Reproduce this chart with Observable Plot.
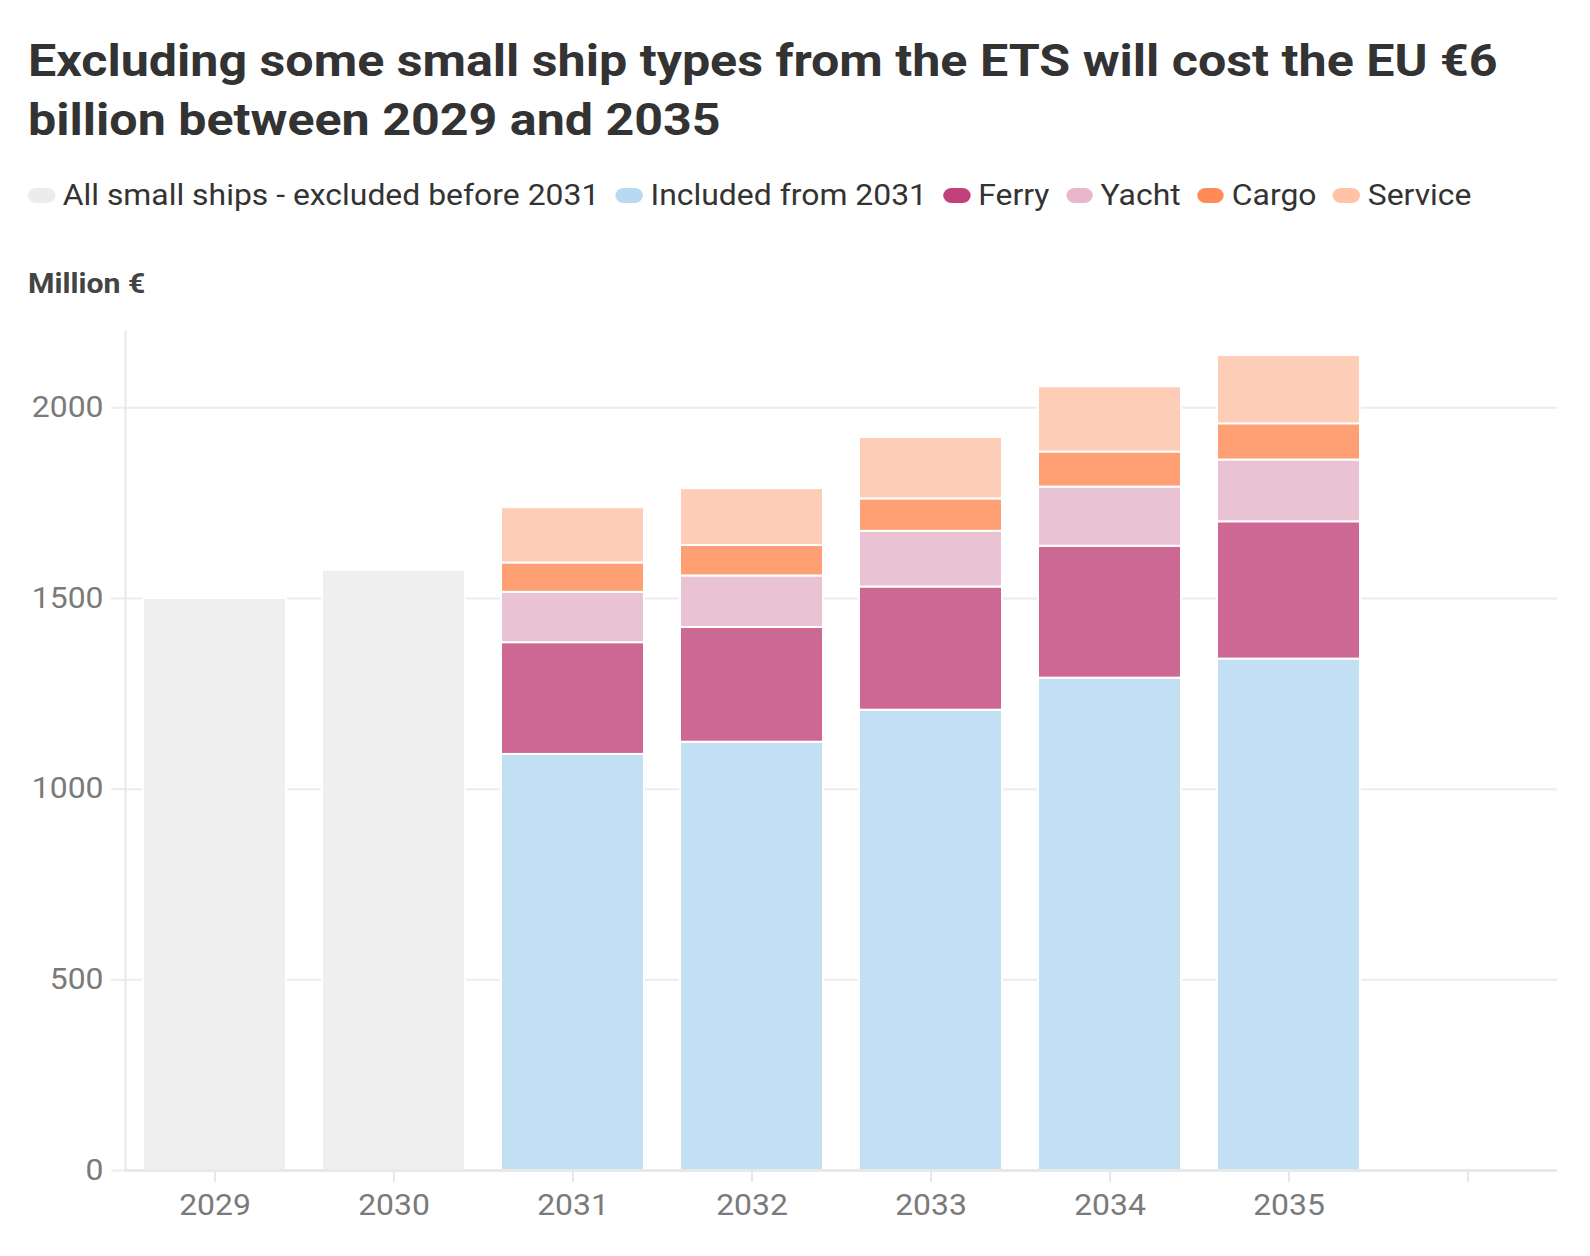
<!DOCTYPE html>
<html>
<head>
<meta charset="utf-8">
<script src="https://cdn.jsdelivr.net/npm/d3@7"></script>
<script src="https://cdn.jsdelivr.net/npm/@observablehq/plot@0.6"></script>
<style>
  html, body { margin: 0; padding: 0; background: #fff; overflow: hidden; }
  body { width: 1590px; height: 1256px; position: relative; font-family: Roboto, sans-serif; }
  #title { position: absolute; left: 28px; top: 31px; width: 1380px; font-size: 45px; font-weight: 700; line-height: 59px; color: #333; margin: 0; transform: scaleX(1.115); transform-origin: 0 0; }
  #legend { position: absolute; left: 28px; top: 176px; display: flex; align-items: center; font-size: 29px; line-height: 38px; color: #333; white-space: nowrap; transform: scaleX(1.1); transform-origin: 0 50%; }
  .item { display: flex; align-items: center; margin-right: 15px; }
  .sw { width: 24.5px; height: 15px; border-radius: 7.5px; margin-right: 7px; }
  #unit { position: absolute; left: 28px; top: 266px; font-size: 27.5px; line-height: 35px; font-weight: 700; color: #444; transform: scaleX(1.1); transform-origin: 0 50%; }
  #chart { position: absolute; left: 0; top: 300px; }
  #chart svg { max-width: none; }
</style>
</head>
<body>
<h1 id="title">Excluding some small ship types from the ETS will cost the EU €6 billion between 2029 and 2035</h1>
<div id="legend"></div>
<div id="unit">Million €</div>
<div id="chart"></div>
<script>
// x categories (last band is an empty slot with an unlabeled tick)
const years = ["2029", "2030", "2031", "2032", "2033", "2034", "2035", "2036"];
const tickLabels = ["2029", "2030", "2031", "2032", "2033", "2034", "2035", ""];

// series names, in stacking order (bottom to top)
const seriesNames = ["All small ships - excluded before 2031", "Included from 2031", "Ferry", "Yacht", "Cargo", "Service"];
const barColors = ["#efefef", "#c2dff4", "#cc6893", "#e9c2d4", "#ff9f74", "#fdcdb8"];
const swatchColors = ["#ececec", "#b8d9f2", "#c2417a", "#e8b7cc", "#ff8a55", "#ffc3a8"];

// values in million €, per year
const allSmallShips = [1500, 1574, null, null, null, null, null, null];
const includedFrom2031 = [null, null, 1091, 1123, 1207, 1291, 1341, null];
const ferry = [null, null, 293, 301, 323, 346, 360, null];
const yacht = [null, null, 132, 135, 146, 155, 162, null];
const cargo = [null, null, 77, 80, 85, 92, 95, null];
const service = [null, null, 145, 149, 161, 171, 179, null];

const seriesValues = [allSmallShips, includedFrom2031, ferry, yacht, cargo, service];

const yTicks = [0, 500, 1000, 1500, 2000];

const data = [];
years.forEach((yr, i) => {
  seriesValues.forEach((vals, s) => {
    if (vals[i] != null) data.push({year: yr, series: seriesNames[s], value: vals[i]});
  });
});

// legend
const legend = document.getElementById("legend");
seriesNames.forEach((name, i) => {
  const it = document.createElement("div");
  it.className = "item";
  const sw = document.createElement("span");
  sw.className = "sw";
  sw.style.background = swatchColors[i];
  const tx = document.createElement("span");
  tx.textContent = name;
  it.appendChild(sw); it.appendChild(tx);
  legend.appendChild(it);
});

const plot = Plot.plot({
  width: 1590,
  height: 930,
  marginTop: 31,
  marginBottom: 60,
  marginLeft: 125,
  marginRight: 33,
  style: {fontFamily: "Roboto, sans-serif", fontSize: "29px", color: "#7a7a7a", background: "#fff"},
  x: {domain: years, paddingInner: 0.2, paddingOuter: 0.1, label: null},
  y: {domain: [0, 2200], label: null},
  color: {domain: seriesNames, range: barColors},
  marks: [
    Plot.gridY(yTicks, {stroke: "#ececec", strokeOpacity: 1, strokeWidth: 2}),
    Plot.axisY(yTicks, {tickSize: 14, tickPadding: 8, stroke: "#ececec", strokeWidth: 2, strokeOpacity: 1, fill: "#7a7a7a", tickFormat: d => String(d), label: null}),
    Plot.frame({anchor: "left", stroke: "#e8e8e8", strokeWidth: 2}),
    Plot.barY(data, Plot.stackY({
      x: "year", y: "value", fill: "series",
      order: seriesNames,
      stroke: "white", strokeWidth: 2
    })),
    Plot.ruleY([0], {stroke: "#e8e8e8", strokeWidth: 3}),
    Plot.axisX({tickSize: 12, tickPadding: 12, stroke: "#e8e8e8", strokeWidth: 2, strokeOpacity: 1, fill: "#7a7a7a",
      tickFormat: d => tickLabels[years.indexOf(d)], label: null})
  ]
});
// widen tick label glyphs slightly (appended to Plot's own positioning transform)
plot.querySelectorAll('g[aria-label="x-axis tick label"] text, g[aria-label="y-axis tick label"] text').forEach(t => {
  const tr = t.getAttribute("transform") || "";
  t.setAttribute("transform", (tr + " scale(1.1,1)").trim());
});
document.getElementById("chart").appendChild(plot);
</script>
</body>
</html>
